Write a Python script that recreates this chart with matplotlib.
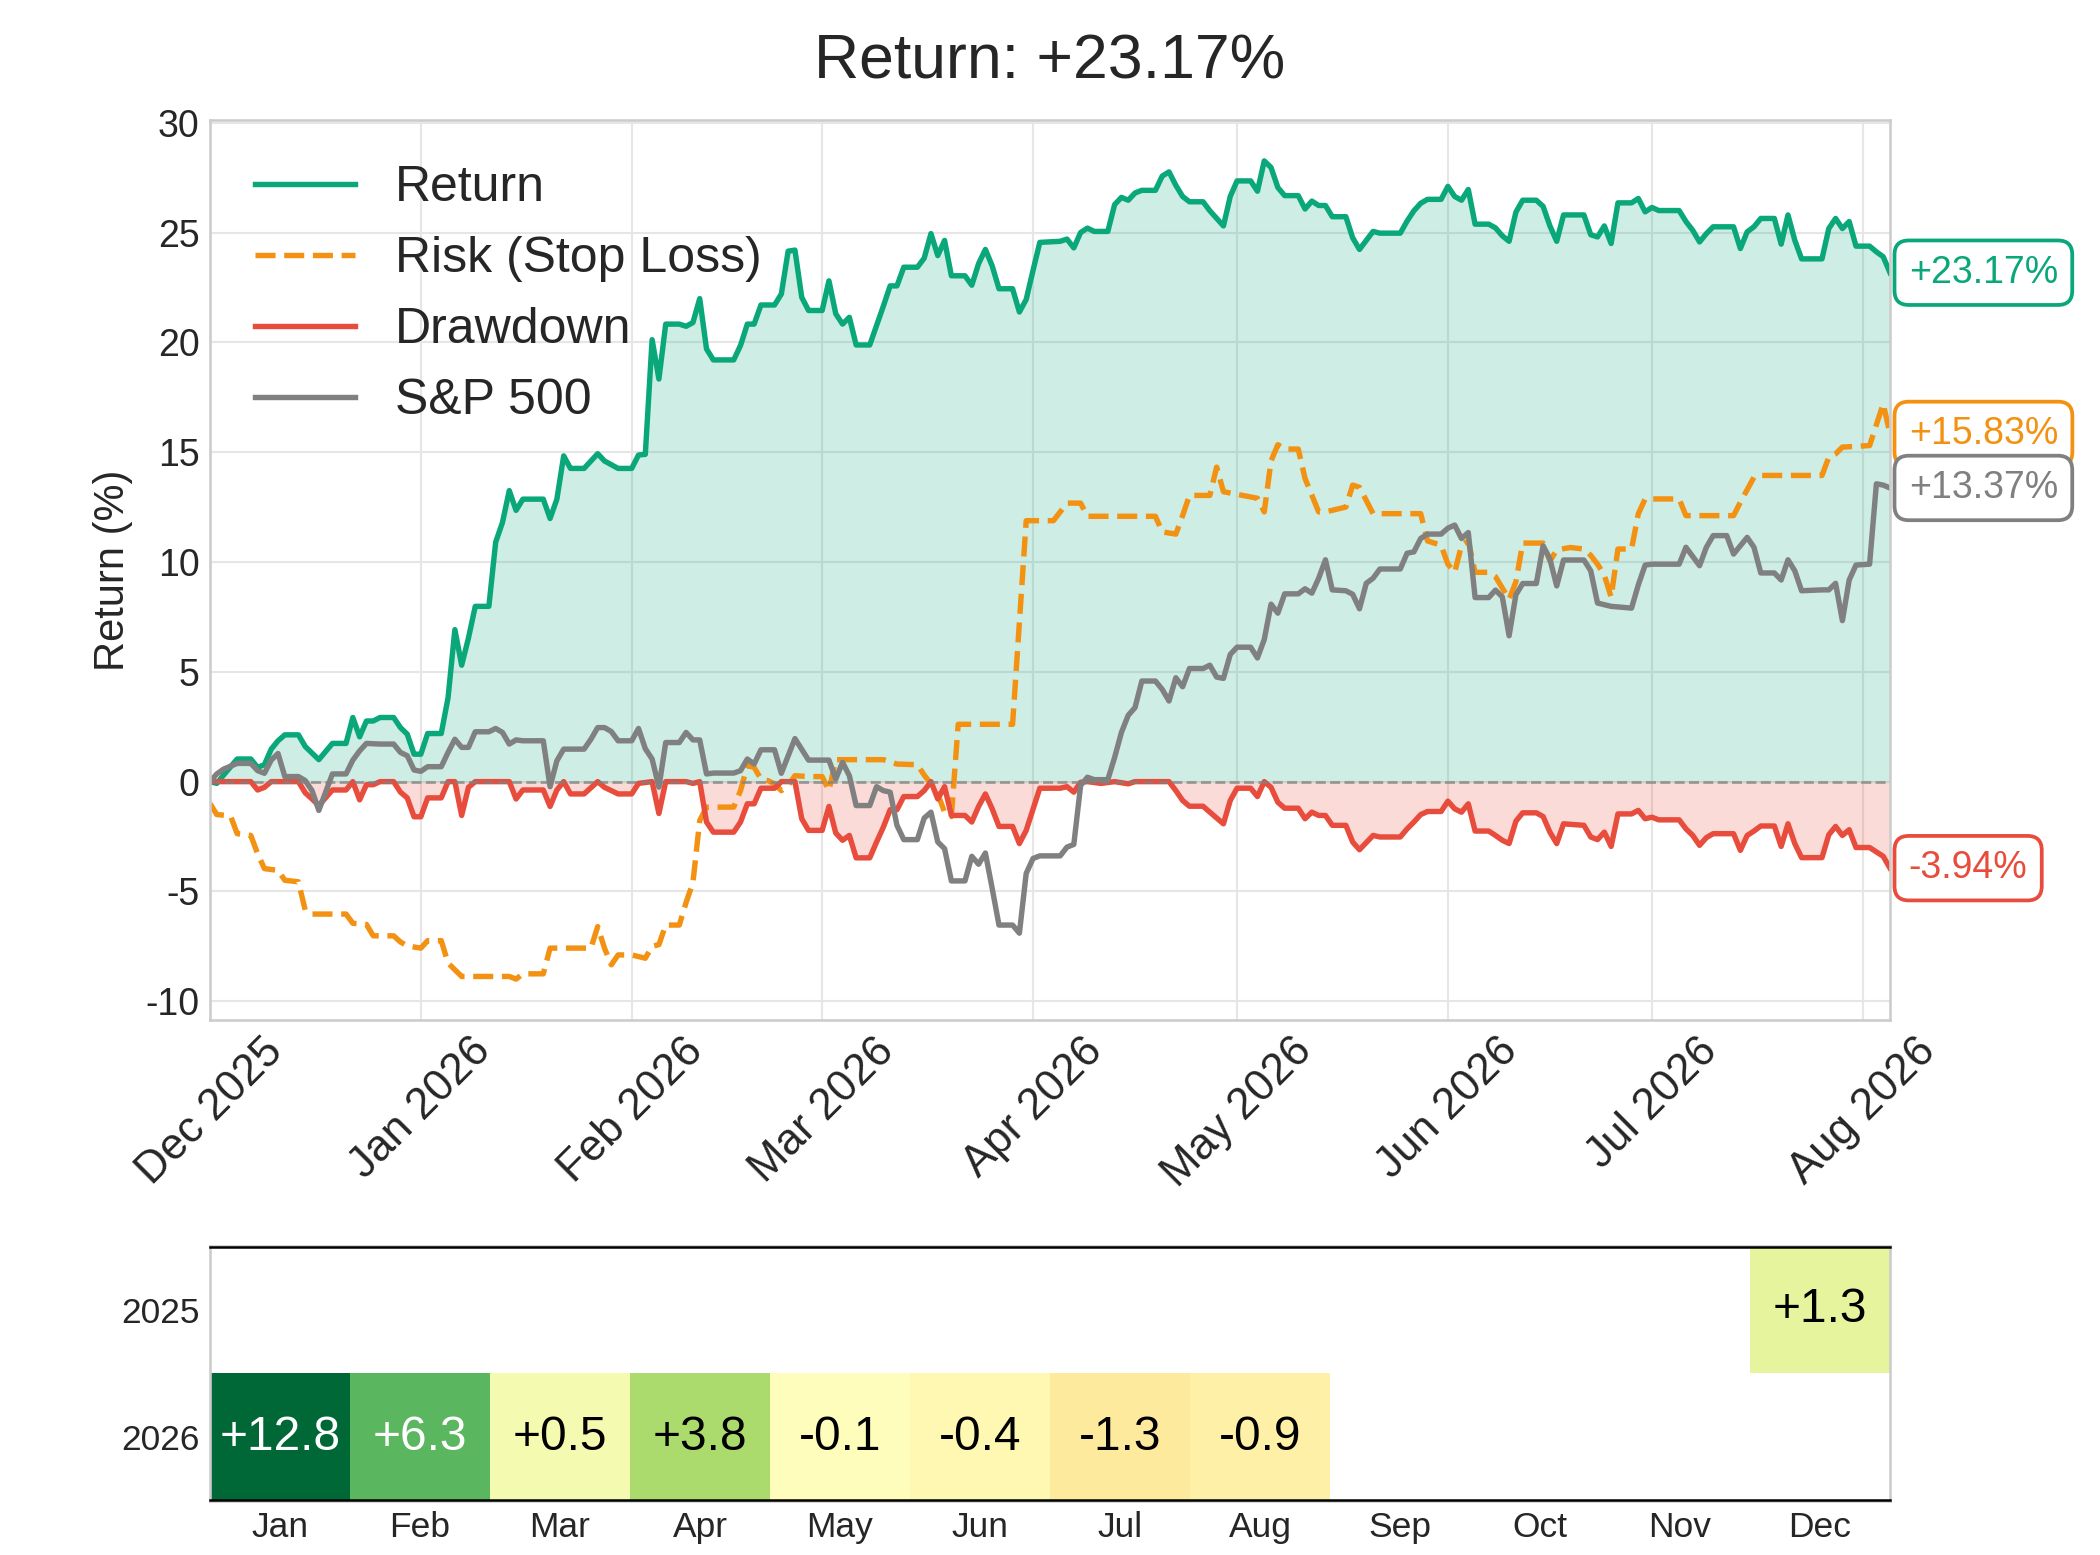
import numpy as np
import pandas as pd
import matplotlib
matplotlib.use("Agg")
import matplotlib.pyplot as plt
import matplotlib.dates as mdates

plt.rcParams['font.family'] = ['Liberation Sans', 'DejaVu Sans']
plt.rcParams['axes.unicode_minus'] = False

# ---------------- data (day offset from start date, value in %) ----------------
START = pd.Timestamp('2025-12-01')
END_DAY = 247

RETURN_PTS = [
    (0, 0.00), (1, -0.08), (2, 0.30), (4, 1.03), (6, 1.03), (7, 0.65), (8, 0.77), (9, 1.48),
    (10, 1.86), (11, 2.13), (13, 2.13), (14, 1.60), (16, 1.00), (18, 1.74), (20, 1.74), (21, 2.92),
    (22, 2.04), (23, 2.76), (24, 2.76), (25, 2.92), (27, 2.92), (28, 2.46), (29, 2.16), (30, 1.25),
    (31, 1.25), (32, 2.19), (34, 2.19), (35, 3.82), (36, 6.92), (37, 5.30), (38, 6.54), (39, 7.98),
    (41, 7.98), (42, 10.90), (43, 11.80), (44, 13.25), (45, 12.35), (46, 12.86), (49, 12.86),
    (50, 11.98), (51, 12.86), (52, 14.83), (53, 14.26), (55, 14.26), (57, 14.93), (58, 14.60),
    (60, 14.26), (62, 14.26), (63, 14.87), (64, 14.90), (65, 20.12), (66, 18.33), (67, 20.83),
    (69, 20.83), (70, 20.73), (71, 20.90), (72, 21.99), (73, 19.70), (74, 19.20), (77, 19.20),
    (78, 19.86), (79, 20.83), (80, 20.83), (81, 21.70), (83, 21.70), (84, 22.20), (85, 24.15),
    (86, 24.20), (87, 22.05), (88, 21.45), (90, 21.45), (91, 22.80), (92, 21.30), (93, 20.83),
    (94, 21.14), (95, 19.88), (97, 19.88), (98, 20.77), (99, 21.65), (100, 22.57), (101, 22.57),
    (102, 23.42), (104, 23.42), (105, 23.83), (106, 24.95), (107, 23.95), (108, 24.64),
    (109, 23.03), (111, 23.03), (112, 22.60), (113, 23.58), (114, 24.23), (115, 23.48),
    (116, 22.44), (118, 22.44), (119, 21.38), (120, 21.95), (121, 23.27), (122, 24.55),
    (125, 24.60), (126, 24.70), (127, 24.30), (128, 25.00), (129, 25.20), (130, 25.05),
    (132, 25.05), (133, 26.27), (134, 26.60), (135, 26.47), (136, 26.80), (137, 26.92),
    (139, 26.92), (140, 27.57), (141, 27.76), (142, 27.15), (143, 26.64), (144, 26.40),
    (146, 26.40), (147, 25.99), (149, 25.30), (150, 26.64), (151, 27.35), (153, 27.35),
    (154, 26.88), (155, 28.26), (156, 27.96), (157, 27.05), (158, 26.68), (160, 26.68),
    (161, 26.07), (162, 26.43), (163, 26.23), (164, 26.23), (165, 25.72), (167, 25.72),
    (168, 24.76), (169, 24.23), (171, 25.05), (172, 24.97), (175, 24.97), (176, 25.52),
    (177, 25.99), (178, 26.33), (179, 26.51), (181, 26.51), (182, 27.10), (183, 26.64),
    (184, 26.47), (185, 26.96), (186, 25.38), (188, 25.38), (189, 25.21), (190, 24.85),
    (191, 24.60), (192, 25.93), (193, 26.47), (195, 26.47), (196, 26.19), (197, 25.30),
    (198, 24.60), (199, 25.80), (202, 25.80), (203, 24.90), (204, 24.80), (205, 25.30),
    (206, 24.50), (207, 26.35), (209, 26.35), (210, 26.55), (211, 25.94), (212, 26.14),
    (213, 26.00), (216, 26.00), (217, 25.50), (218, 25.10), (219, 24.57), (220, 24.95),
    (221, 25.26), (224, 25.26), (225, 24.27), (226, 25.03), (227, 25.26), (228, 25.64),
    (230, 25.64), (231, 24.47), (232, 25.80), (233, 24.65), (234, 23.80), (237, 23.80),
    (238, 25.18), (239, 25.64), (240, 25.18), (241, 25.50), (242, 24.38), (244, 24.38),
    (245, 24.12), (246, 23.90), (247, 23.17),
]

RISK_PTS = [
    (0, -1.00), (1, -1.50), (3, -1.55), (4, -2.37), (6, -2.45), (7, -3.28), (8, -3.96),
    (10, -4.04), (11, -4.49), (13, -4.56), (14, -5.85), (15, -6.03), (20, -6.03), (21, -6.45),
    (23, -6.50), (24, -7.02), (27, -7.02), (28, -7.30), (29, -7.48), (31, -7.58), (32, -7.24),
    (34, -7.24), (35, -8.26), (37, -8.87), (44, -8.87), (45, -8.99), (46, -8.75), (49, -8.75),
    (50, -7.58), (56, -7.58), (57, -6.60), (58, -7.58), (59, -8.34), (60, -7.89), (62, -7.89),
    (64, -8.04), (65, -7.50), (66, -7.42), (67, -6.53), (69, -6.53), (70, -5.50), (71, -4.60),
    (72, -1.77), (73, -1.16), (77, -1.16), (78, -0.41), (79, 0.73), (80, 0.65), (81, 0.12),
    (82, 0.05), (83, -0.10), (84, -0.41), (85, -0.18), (86, 0.27), (88, 0.23), (90, 0.23),
    (91, -0.41), (92, 1.00), (99, 1.00), (101, 0.80), (104, 0.77), (105, 0.30), (106, -0.10),
    (107, -0.56), (108, -1.39), (109, -1.59), (110, 2.61), (118, 2.61), (120, 11.88),
    (124, 11.88), (126, 12.68), (128, 12.68), (129, 12.08), (139, 12.08), (140, 11.37),
    (142, 11.27), (143, 12.11), (144, 13.03), (147, 13.03), (148, 14.32), (149, 13.20),
    (154, 12.90), (155, 12.28), (156, 14.60), (157, 15.34), (158, 15.14), (160, 15.14),
    (161, 13.80), (163, 12.28), (164, 12.28), (167, 12.50), (168, 13.50), (169, 13.40),
    (171, 12.20), (178, 12.20), (179, 10.96), (181, 10.76), (182, 9.90), (183, 9.53),
    (184, 10.76), (185, 10.96), (186, 9.53), (188, 9.53), (189, 9.33), (191, 8.30),
    (192, 9.10), (193, 10.86), (196, 10.86), (197, 10.04), (198, 10.55), (200, 10.66),
    (202, 10.59), (203, 10.30), (204, 9.90), (205, 9.40), (206, 8.40), (207, 10.59),
    (209, 10.59), (210, 12.20), (211, 12.87), (216, 12.87), (217, 12.11), (224, 12.11),
    (225, 12.72), (227, 13.86), (228, 13.94), (237, 13.94), (238, 14.77), (239, 14.92),
    (240, 15.23), (244, 15.30), (246, 17.20), (247, 15.83),
]

DRAWDOWN_PTS = [
    (0, 0.00), (6, 0.00), (7, -0.38), (8, -0.26), (9, 0.00), (13, 0.00), (14, -0.51),
    (15, -0.79), (16, -1.09), (18, -0.38), (20, -0.38), (21, 0.00), (22, -0.83), (23, -0.14),
    (24, -0.14), (25, 0.00), (27, 0.00), (28, -0.48), (29, -0.74), (30, -1.60), (31, -1.60),
    (32, -0.74), (34, -0.74), (35, 0.00), (36, 0.00), (37, -1.54), (38, -0.26), (39, 0.00),
    (44, 0.00), (45, -0.79), (46, -0.38), (49, -0.38), (50, -1.13), (51, -0.38), (52, 0.00),
    (53, -0.56), (55, -0.56), (57, 0.00), (58, -0.26), (60, -0.56), (62, -0.56), (63, -0.08),
    (65, 0.00), (66, -1.45), (67, 0.00), (70, 0.00), (71, -0.08), (72, 0.00), (73, -1.84),
    (74, -2.30), (77, -2.30), (78, -1.84), (79, -1.01), (80, -1.01), (81, -0.30), (83, -0.30),
    (84, 0.00), (86, 0.00), (87, -1.69), (88, -2.22), (90, -2.22), (91, -1.13), (92, -2.34),
    (93, -2.67), (94, -2.45), (95, -3.47), (97, -3.47), (98, -2.75), (99, -2.07), (100, -1.28),
    (101, -1.28), (102, -0.68), (104, -0.68), (105, -0.41), (106, 0.00), (107, -0.79),
    (108, -0.23), (109, -1.54), (111, -1.54), (112, -1.84), (113, -1.13), (114, -0.56),
    (115, -1.24), (116, -2.04), (118, -2.04), (119, -2.82), (120, -2.22), (122, -0.30),
    (125, -0.30), (126, -0.23), (127, -0.48), (128, -0.03), (129, 0.00), (131, -0.08),
    (133, 0.00), (135, -0.10), (136, 0.00), (141, 0.00), (142, -0.41), (143, -0.86),
    (144, -1.12), (146, -1.12), (147, -1.39), (149, -1.92), (150, -0.86), (151, -0.30),
    (153, -0.30), (154, -0.68), (155, 0.00), (156, -0.26), (157, -0.94), (158, -1.21),
    (160, -1.21), (161, -1.69), (162, -1.39), (163, -1.54), (164, -1.54), (165, -1.99),
    (167, -1.99), (168, -2.75), (169, -3.10), (171, -2.45), (172, -2.52), (175, -2.52),
    (176, -2.15), (177, -1.84), (178, -1.50), (179, -1.36), (181, -1.36), (182, -0.89),
    (183, -1.24), (184, -1.39), (185, -1.01), (186, -2.25), (188, -2.25), (189, -2.45),
    (190, -2.67), (191, -2.82), (192, -1.80), (193, -1.42), (195, -1.42), (196, -1.59),
    (197, -2.30), (198, -2.82), (199, -1.92), (202, -1.99), (203, -2.52), (204, -2.64),
    (205, -2.30), (206, -2.95), (207, -1.47), (209, -1.47), (210, -1.31), (211, -1.69),
    (212, -1.62), (213, -1.74), (216, -1.74), (217, -2.15), (218, -2.45), (219, -2.90),
    (220, -2.55), (221, -2.37), (224, -2.37), (225, -3.13), (226, -2.45), (227, -2.25),
    (228, -2.02), (230, -2.02), (231, -2.95), (232, -1.92), (233, -2.82), (234, -3.46),
    (237, -3.46), (238, -2.42), (239, -2.04), (240, -2.45), (241, -2.19), (242, -3.00),
    (244, -3.00), (245, -3.20), (246, -3.40), (247, -3.94),
]

SP500_PTS = [
    (0, 0.00), (1, 0.35), (2, 0.57), (4, 0.83), (6, 0.83), (7, 0.50), (8, 0.38), (9, 0.98),
    (10, 1.28), (11, 0.23), (13, 0.23), (14, 0.05), (15, -0.41), (16, -1.31), (18, 0.35),
    (20, 0.35), (21, 0.98), (22, 1.40), (23, 1.74), (25, 1.71), (27, 1.71), (28, 1.33),
    (29, 1.18), (30, 0.53), (31, 0.47), (32, 0.68), (34, 0.68), (35, 1.33), (36, 1.93),
    (37, 1.56), (38, 1.56), (39, 2.27), (41, 2.27), (42, 2.42), (43, 2.24), (44, 1.71),
    (45, 1.90), (46, 1.86), (49, 1.86), (50, -0.23), (51, 0.95), (52, 1.48), (55, 1.48),
    (56, 1.93), (57, 2.46), (58, 2.46), (59, 2.28), (60, 1.86), (62, 1.86), (63, 2.42),
    (64, 1.50), (65, 1.03), (66, -0.25), (67, 1.78), (69, 1.78), (70, 2.24), (71, 1.90),
    (72, 1.90), (73, 0.35), (74, 0.39), (77, 0.39), (78, 0.50), (79, 1.03), (80, 0.80),
    (81, 1.45), (83, 1.45), (84, 0.38), (86, 1.96), (88, 0.98), (91, 0.98), (92, 0.12),
    (93, 0.88), (94, 0.27), (95, -1.09), (97, -1.09), (98, -0.23), (99, -0.41), (100, -0.48),
    (101, -1.99), (102, -2.64), (104, -2.64), (105, -1.66), (106, -1.39), (107, -2.75),
    (108, -3.05), (109, -4.52), (111, -4.52), (112, -3.40), (113, -3.76), (114, -3.25),
    (115, -4.86), (116, -6.53), (118, -6.53), (119, -6.90), (120, -4.18), (121, -3.50),
    (122, -3.38), (125, -3.38), (126, -2.98), (127, -2.86), (128, -0.18), (129, 0.20),
    (130, 0.09), (132, 0.09), (133, 1.10), (134, 2.24), (135, 3.02), (136, 3.37), (137, 4.58),
    (139, 4.58), (140, 4.20), (141, 3.67), (142, 4.73), (143, 4.32), (144, 5.15), (146, 5.15),
    (147, 5.30), (148, 4.76), (149, 4.70), (150, 5.79), (151, 6.12), (153, 6.12), (154, 5.63),
    (155, 6.47), (156, 8.08), (157, 7.67), (158, 8.55), (160, 8.55), (161, 8.78), (162, 8.58),
    (163, 9.26), (164, 10.10), (165, 8.73), (167, 8.69), (168, 8.53), (169, 7.87), (170, 9.03),
    (171, 9.26), (172, 9.68), (175, 9.68), (176, 10.40), (177, 10.46), (178, 11.07),
    (179, 11.27), (181, 11.27), (182, 11.54), (183, 11.68), (184, 11.07), (185, 11.34),
    (186, 8.38), (188, 8.38), (189, 8.72), (190, 8.41), (191, 6.64), (192, 8.51), (193, 9.02),
    (195, 9.02), (196, 10.74), (197, 10.13), (198, 8.91), (199, 10.09), (202, 10.09),
    (203, 9.60), (204, 8.13), (206, 7.98), (209, 7.90), (210, 8.96), (211, 9.86), (212, 9.90),
    (216, 9.90), (217, 10.67), (219, 9.83), (220, 10.67), (221, 11.20), (223, 11.20),
    (224, 10.36), (226, 11.12), (227, 10.67), (228, 9.50), (230, 9.50), (231, 9.18),
    (232, 10.10), (233, 9.60), (234, 8.69), (237, 8.73), (238, 8.73), (239, 9.03), (240, 7.33),
    (241, 9.18), (242, 9.86), (244, 9.90), (245, 13.56), (246, 13.50), (247, 13.37),
]

MONTHS = ['Jan', 'Feb', 'Mar', 'Apr', 'May', 'Jun', 'Jul', 'Aug', 'Sep', 'Oct', 'Nov', 'Dec']
YEARS = ['2025', '2026']
MONTHLY_2025 = [np.nan] * 11 + [1.3]
MONTHLY_2026 = [12.8, 6.3, 0.5, 3.8, -0.1, -0.4, -1.3, -0.9, np.nan, np.nan, np.nan, np.nan]

# ---------------- styling ----------------
GREEN = '#0aa77a'
ORANGE = '#f39212'
RED = '#e74c3c'
GRAY = '#808080'
TEXT = '#262626'
SPINE = '#cccccc'
LW = 2.6


def series(pts):
    d, v = zip(*pts)
    return START + pd.to_timedelta(list(d), unit='D'), np.array(v, dtype=float)


ret_x, ret_y = series(RETURN_PTS)
risk_x, risk_y = series(RISK_PTS)
dd_x, dd_y = series(DRAWDOWN_PTS)
sp_x, sp_y = series(SP500_PTS)

W, H, DPI = 2100, 1555, 150
fig = plt.figure(figsize=(W / DPI, H / DPI), dpi=DPI, facecolor='white')
ax = fig.add_axes([210 / W, 1 - 1020 / H, 1680 / W, 900 / H])
hax = fig.add_axes([210 / W, 1 - 1501 / H, 1680 / W, 255 / H])

# ---------------- main chart ----------------
ax.set_facecolor('white')
ax.grid(True, color='#e6e6e6', lw=1.0)
ax.set_axisbelow(True)
for s in ax.spines.values():
    s.set_color(SPINE)
    s.set_linewidth(1.25)

ax.fill_between(ret_x, ret_y, 0, color=GREEN, alpha=0.2, lw=0)
ax.fill_between(dd_x, dd_y, 0, color=RED, alpha=0.2, lw=0)
ax.plot(ret_x, ret_y, color=GREEN, lw=LW, label='Return')
ax.plot(risk_x, risk_y, color=ORANGE, lw=LW, ls='--', label='Risk (Stop Loss)')
ax.plot(dd_x, dd_y, color=RED, lw=LW, label='Drawdown')
ax.plot(sp_x, sp_y, color=GRAY, lw=LW, label='S&P 500')
ax.axhline(0, color='gray', ls='--', lw=1.3, alpha=0.75)

ax.set_xlim(START, START + pd.Timedelta(days=END_DAY))
ax.xaxis.set_major_locator(mdates.MonthLocator())
ax.xaxis.set_major_formatter(mdates.DateFormatter('%b %Y'))
ax.tick_params(axis='x', labelsize=21, rotation=45, length=0, pad=5, labelcolor=TEXT)
ax.tick_params(axis='y', labelsize=18, length=0, pad=5, labelcolor=TEXT)
ax.set_ylabel('Return (%)', fontsize=20, color=TEXT, labelpad=6)
ax.set_title(f'Return: {ret_y[-1]:+.2f}%', fontsize=30, color=TEXT, pad=20)

leg = ax.legend(loc='upper left', fontsize=24, frameon=False)
for t in leg.get_texts():
    t.set_color(TEXT)

for yv, col in [(ret_y, GREEN), (risk_y, ORANGE), (dd_y, RED), (sp_y, GRAY)]:
    v = yv[-1]
    ax.annotate(f'{v:+.2f}%', xy=(1, v), xycoords=('axes fraction', 'data'),
                xytext=(9, 0), textcoords='offset points', va='center', ha='left',
                fontsize=18, color=col, annotation_clip=False,
                bbox=dict(boxstyle='round,pad=0.38', fc='white', ec=col, lw=1.8))

# ---------------- monthly heatmap ----------------
grid_vals = np.array([MONTHLY_2025, MONTHLY_2026], dtype=float)
hax.imshow(np.ma.masked_invalid(grid_vals), cmap='RdYlGn', vmin=-10, vmax=10,
           aspect='auto', interpolation='nearest')
for r in range(grid_vals.shape[0]):
    for c in range(grid_vals.shape[1]):
        v = grid_vals[r, c]
        if np.isnan(v):
            continue
        hax.text(c, r, f'{v:+.1f}', ha='center', va='center', fontsize=23,
                 color='white' if abs(v) > 5 else 'black')
hax.set_xticks(range(len(MONTHS)))
hax.set_xticklabels(MONTHS)
hax.set_yticks(range(len(YEARS)))
hax.set_yticklabels(YEARS)
hax.tick_params(length=0, labelsize=17, labelcolor=TEXT, pad=5)
hax.grid(False)
for s in hax.spines.values():
    s.set_color(SPINE)
    s.set_linewidth(1.25)
hax.axhline(-0.49, color='black', lw=1.2, zorder=3, clip_on=False)
hax.axhline(1.49, color='black', lw=1.2, zorder=3, clip_on=False)

fig.savefig('out.png', dpi=DPI, facecolor='white')
